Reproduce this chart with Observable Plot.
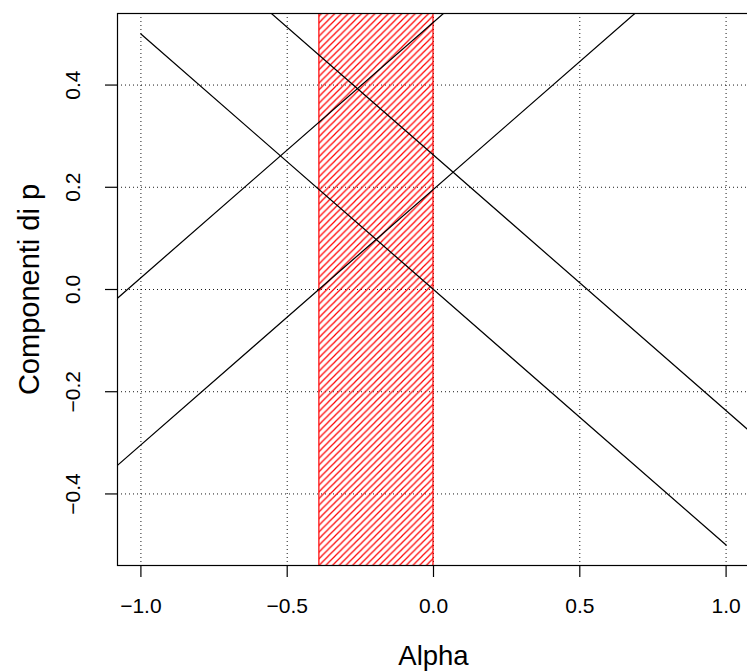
<!DOCTYPE html>
<html>
<head>
<meta charset="utf-8">
<script src="https://cdn.jsdelivr.net/npm/d3@7"></script>
<script src="https://cdn.jsdelivr.net/npm/@observablehq/plot@0.6"></script>
<style>
  html, body { margin: 0; padding: 0; background: #fff; overflow: hidden; }
  #chart svg { display: block; }
</style>
</head>
<body>
<div id="chart"></div>
<script>
// Tick values and labels
const xTicks = [-1, -0.5, 0, 0.5, 1];
const xTickLabels = ["−1.0", "−0.5", "0.0", "0.5", "1.0"];
const yTicks = [-0.4, -0.2, 0, 0.2, 0.4];
const yTickLabels = ["−0.4", "−0.2", "0.0", "0.2", "0.4"];

// Lines (components of p as functions of alpha), endpoints
const lineIds = ["p1", "p2", "p3", "p4"];
const lineAlpha = [[-1, 1], [-1.1, 1.1], [-1.1, 1.1], [-1.1, 1.1]];
const lineP = [[0.5, -0.5], [0.813, -0.287], [-0.354, 0.746], [-0.027, 1.073]];

// Shaded admissible region of alpha
const regionAlpha = [-0.39, 0];

const xLabel = "Alpha";
const yLabel = "Componenti di p";

const lineRows = lineIds.flatMap((id, k) =>
  lineAlpha[k].map((a, j) => ({id, alpha: a, p: lineP[k][j]})));
const regionRows = [{x1: regionAlpha[0], x2: regionAlpha[1], y1: -1, y2: 1}];

const font = "Liberation Sans, Arial, Helvetica, sans-serif";

const chart = Plot.plot({
  width: 747,
  height: 672,
  marginLeft: 117,
  marginRight: -2,
  marginTop: 13,
  marginBottom: 107,
  style: {fontFamily: font, background: "#fff", color: "#000"},
  x: {domain: [-1.08, 1.08]},
  y: {domain: [-0.54, 0.54]},
  marks: [
    Plot.ruleX(xTicks, {x: d => d, stroke: "#000", strokeOpacity: 0.9, strokeDasharray: "1,3"}),
    Plot.ruleY(yTicks, {y: d => d, stroke: "#000", strokeOpacity: 0.9, strokeDasharray: "1,3"}),
    Plot.rect(regionRows, {x1: "x1", x2: "x2", y1: "y1", y2: "y2", fill: "url(#hatch)", stroke: "#ff0000", strokeWidth: 1.2, clip: true}),
    Plot.line(lineRows, {x: "alpha", y: "p", z: "id", stroke: "#000", strokeWidth: 1.25, clip: true}),
    Plot.frame({stroke: "#000", strokeWidth: 1.2}),
    Plot.axisX({ticks: xTicks, tickSize: 12, tickFormat: () => "", label: null, stroke: "#000", strokeWidth: 1.2}),
    Plot.axisY({ticks: yTicks, tickSize: 12, tickFormat: () => "", label: null, stroke: "#000", strokeWidth: 1.2}),
    Plot.text(xTicks, {x: d => d, frameAnchor: "bottom", dy: 41, text: (d, i) => xTickLabels[i],
      fontSize: 21, lineAnchor: "middle", textAnchor: "middle", fill: "#000"}),
    Plot.text(yTicks, {y: d => d, frameAnchor: "left", dx: -44, rotate: -90, text: (d, i) => yTickLabels[i],
      fontSize: 21, lineAnchor: "middle", textAnchor: "middle", fill: "#000"}),
    Plot.text([xLabel], {x: 0, frameAnchor: "bottom", dy: 91, text: d => d,
      fontSize: 27.5, lineAnchor: "middle", textAnchor: "middle", fill: "#000"}),
    Plot.text([yLabel], {frameAnchor: "left", dx: -88, rotate: -90, text: d => d,
      fontSize: 29, lineAnchor: "middle", textAnchor: "middle", fill: "#000"})
  ]
});

// Hatch pattern for the shaded region
const s = 6.7;
const defs = d3.select(chart).insert("defs", ":first-child");
const pat = defs.append("pattern")
  .attr("id", "hatch")
  .attr("patternUnits", "userSpaceOnUse")
  .attr("width", s)
  .attr("height", s);
pat.append("path")
  .attr("d", `M0,${s} L${s},0 M${-s/2},${s/2} L${s/2},${-s/2} M${s/2},${s*1.5} L${s*1.5},${s/2}`)
  .attr("stroke", "#ff0000")
  .attr("stroke-width", 1.2)
  .attr("fill", "none");

document.getElementById("chart").appendChild(chart);
</script>
</body>
</html>
